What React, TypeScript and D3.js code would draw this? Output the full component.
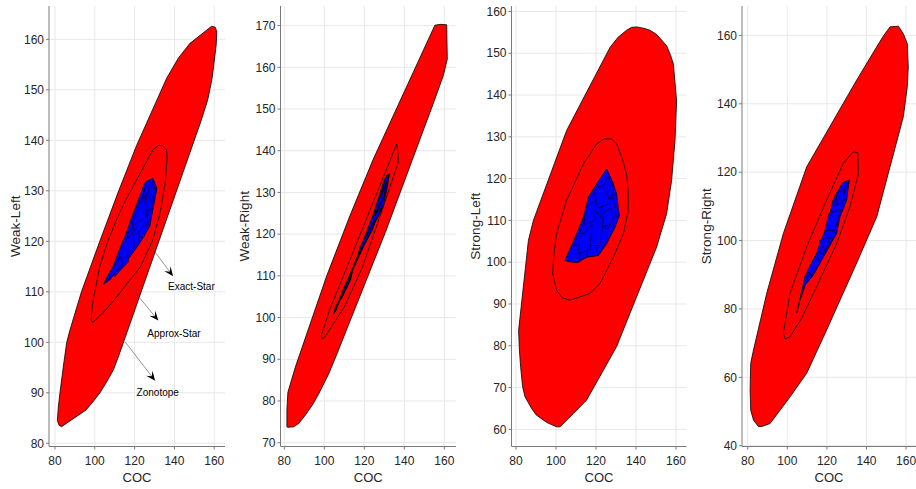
import React from 'react';
import * as d3 from 'd3';

type Pt = [number, number];

// ---------- data ----------
const xTicks = [80, 100, 120, 140, 160];
const yTicks1 = [80, 90, 100, 110, 120, 130, 140, 150, 160];
const yTicks2 = [70, 80, 90, 100, 110, 120, 130, 140, 150, 160, 170];
const yTicks3 = [60, 70, 80, 90, 100, 110, 120, 130, 140, 150, 160];
const yTicks4 = [40, 60, 80, 100, 120, 140, 160];
const yLabels = ['Weak-Left', 'Weak-Right', 'Strong-Left', 'Strong-Right'];
const xLabel = 'COC';

// Panel 1: Weak-Left
const zono1: Pt[] = [[83.3,83.3],[88,84.7],[92,85.7],[95.6,86.6],[99,88.2],[102.6,90],[106,92.2],[109.3,94.5],[112,97.3],[114,100],[121.7,110],[130.8,120],[140,130],[149.2,140],[153.5,144],[156.7,148],[158.8,152],[159.8,155],[161,159],[161.3,161.5],[160.5,162.4],[158.7,162.6],[155,161.3],[151,160],[147.8,159.2],[142,156.3],[136.1,152.3],[129,146],[121,139],[112,130],[102.5,120],[93.3,110],[87.5,102.4],[85.9,100],[84.2,95.2],[82.5,90],[81.7,87.2],[81.2,84.5],[82,83.6]];
const approx1: Pt[] = [[134.2,138.9],[136,138.2],[136.3,136.5],[135.5,132],[133,126],[129.2,120.3],[123,115],[116.2,111.8],[110,108.5],[104,105.8],[98.8,103.9],[98.2,104.6],[98.6,106.5],[99.2,108.4],[102.5,115],[106.5,120],[110.8,124.2],[115,127.8],[119.2,130.8],[124,134.2],[129.2,138.1],[132,139]];
const exact1: Pt[] = [[125.8,131.8],[127.5,132.2],[129.2,132.5],[130.2,131.5],[131.2,130.5],[130,128.2],[128.7,125.5],[127.5,122.9],[122.5,119.6],[118,117.2],[114,115],[105.8,112],[104.2,111.4],[106.5,113.2],[109.2,115],[112.5,118.5],[115.8,121.6],[119,125.2],[122.5,128.8],[125,131.5]];
const mesh1: Pt[][] = [
  [[125.8,131.8],[129.2,132.5],[128,127],[122,124.5]],
  [[131.2,130.5],[127.5,122.9],[124,126],[127,130]],
  [[122.5,128.8],[127,126.5],[125,121],[118,121]],
  [[115.8,121.6],[122,123],[122.5,119.6],[114,115]],
  [[109.2,115],[116,118.5],[117,116],[110,113]],
  [[104.2,111.4],[110,114],[108,112.5]],
  [[118,124],[124,127],[127,124],[121,121.5]],
  [[112,118],[119,122],[120,119],[113,116]],
  [[126,129.5],[130,130.8],[129,126.5],[125.5,126]],
  [[120,126],[125,129],[126,125],[119,123]],
  [[107,113.5],[113,117],[114,115.5],[108,112.8]],
  [[127,131],[129.5,131.5],[130.5,129.5],[127.5,127.5]],
];
const arrowsStart1: Pt[] = [[123.7,121.4],[116.3,111.8],[115.2,100.1]];
const arrowsEnd1: Pt[] = [[139.3,113.1],[131.9,104.3],[130.3,92.4]];
const arrowLabels = ['Exact-Star', 'Approx-Star', 'Zonotope'];
const arrowLabelPos1: Pt[] = [[136.8,110.3],[126.4,101.1],[121,89.4]];

// Panel 2: Weak-Right
const zono2: Pt[] = [[81.8,73.7],[84.7,73.8],[87.2,74.6],[90.5,76.6],[94,79],[97.2,81.7],[102.2,86.5],[106.5,91.5],[110.5,96.8],[119,106.8],[130.5,120.4],[140.5,134.8],[149.5,145.2],[155,152],[159.5,158],[161.5,162],[161.3,166],[161.2,170.2],[158,170.3],[155.3,170.1],[152.8,166.9],[146.2,159.7],[136.2,150],[124.5,138],[112.8,124.4],[101.2,110],[92.2,96.8],[85.5,88.1],[81.8,82.1],[81.3,77.8],[81.3,73.8]];
const approx2: Pt[] = [[136.2,141.6],[137,138.8],[137,137.2],[132.8,131.6],[126.2,122],[119,112],[110,102.5],[102.8,97.2],[100,95.2],[98.7,94.9],[98.7,96],[102.8,102],[112.8,112.4],[122.8,123.6],[131.2,134.8]];
const exact2: Pt[] = [[132.5,134.4],[131.6,131.5],[129.5,126.8],[122.8,120.4],[116.2,114],[110.3,107.6],[105.5,101.5],[104.6,100.8],[105.5,102.5],[108.7,105.2],[112.8,110],[118,116.5],[124,124],[129.8,132.8],[131.2,134]];
const mesh2: Pt[][] = [
  [[131.2,134],[132.5,134.4],[128,127],[125,125]],
  [[124,124],[129.5,126.8],[122.8,120.4],[118,116.5]],
  [[112.8,110],[122.8,120.4],[116.2,114],[110,107]],
  [[105.5,101.5],[110.3,107.6],[108.7,105.2]],
  [[118,117],[126,124],[124,121],[117,115]],
  [[126,127],[131,132],[130,129],[125,124.5]],
  [[109,106],[114,111],[113,109],[108.5,104.5]],
];

// Panel 3: Strong-Left
const zono3: Pt[] = [[140.3,156.3],[143.7,156],[147,155.5],[150.3,154.5],[153,153],[155.3,151.8],[157.3,149.5],[158.7,147.4],[160.3,138.6],[159.5,129.1],[157.8,119.5],[155.3,111.6],[150.3,103.6],[142,94.9],[133.7,84.5],[130.3,79.8],[123.7,74.2],[115.3,67],[108.7,63.8],[102.8,61],[102,60.6],[100.3,60.6],[96,61.5],[93.7,62.2],[90,63.5],[87.8,65],[84.5,67.8],[83.3,70.2],[82.3,75],[81.7,79],[81.3,83.7],[82.5,89],[83.7,94.1],[86.2,105.2],[88.7,110],[93.7,116.3],[105.3,131.5],[117,141.8],[127,151.4],[131,153.8],[135.3,155.5],[137.8,156.2]];
const approx3: Pt[] = [[127.8,129.5],[130.3,128.3],[133,125],[135.3,121.1],[136.2,116.3],[136,112],[133.7,106.8],[128.7,101.2],[122,94.9],[117,92.5],[107,90.9],[103,91.5],[100.3,93.3],[98.3,97.3],[99,102],[100.3,106.8],[105.3,114.8],[113.7,123.5],[120.3,128.3],[124,129.5]];
const exact3: Pt[] = [[125.3,122.3],[128.7,118.7],[130.3,116.3],[130.3,113.2],[131.7,111.2],[129.5,108.4],[125.3,104.4],[121.2,101.6],[115.3,101.2],[111.2,100],[107.8,100],[104.5,100.4],[110.3,106.8],[113.7,110.8],[116.2,115.6],[120.3,118.7],[123.7,121.1]];
const mesh3: Pt[][] = [
  [[125.3,122.3],[128.7,118.7],[124,116],[120.3,118.7]],
  [[130.3,116.3],[131.7,111.2],[126,110],[124,115]],
  [[116.2,115.6],[124,117],[123,111],[115,110]],
  [[113.7,110.8],[121,112],[120,106],[111,105]],
  [[110.3,106.8],[117,107],[115.3,101.2],[107.8,100]],
  [[121.2,101.6],[129.5,108.4],[125,111],[118,106]],
  [[104.5,100.4],[111.2,100],[113,104],[108,104]],
  [[123,114],[128,116],[130,112],[126,108],[122,109]],
  [[118,113],[124,110],[122,104],[116,104]],
  [[119,117],[125,119],[127,114],[121,113]],
  [[126,120.5],[129,117.5],[127,115],[123.5,118]],
  [[112,106],[118,109],[117,103],[111,102]],
  [[124,112],[128,113],[127.5,109],[123,108.5]],
  [[115,113],[120,115],[119.5,110],[114,109]],
];

// Panel 4: Strong-Right
const zono4: Pt[] = [[151.9,162.5],[156.1,162.7],[158.6,160.5],[160.6,157.6],[161.1,150.8],[160.6,145],[158.6,136.2],[151.9,121.6],[145.2,107],[135,93.4],[124.9,82.6],[119.9,73.9],[109.8,61.2],[101.4,54.3],[94.6,49.5],[91.3,46.5],[87.1,45.6],[85.4,45.6],[82.9,47.5],[81.5,50.4],[81.2,56.3],[81.5,64.1],[82.9,68],[85.4,73.9],[89.6,84.6],[98,102.1],[109.8,121.6],[121.6,133.3],[135,146.9],[145.2,156.7],[148.5,159.8]];
const approx4: Pt[] = [[133.4,126],[135.6,125.7],[135.9,119.6],[131.7,110],[125,99.2],[114.8,86.5],[107,77],[101.4,71.9],[98.9,71.2],[98,73],[98.9,75.8],[101.4,84.6],[109.8,98.2],[119.9,111.9],[128.3,122.6]];
const exact4: Pt[] = [[128,116.9],[131.3,117.7],[130,111.9],[126.6,107],[124.9,102.1],[116.5,93.4],[113.2,90],[109,87],[106.4,82.6],[104.7,78.8],[106,82],[109,89.5],[114.8,96.3],[119.9,104.1],[123.2,111.9]];
const mesh4: Pt[][] = [
  [[128,116.9],[131.3,117.7],[127,112],[124,113]],
  [[123.2,111.9],[130,111.9],[126.6,107],[121,106]],
  [[119.9,104.1],[124.9,102.1],[118,96],[115,97]],
  [[114.8,96.3],[116.5,93.4],[112,90],[110,91]],
  [[109,89.5],[113.2,90],[109,87],[106.4,82.6]],
  [[121,108],[127,109],[124,103],[119,103]],
  [[116,100],[122,101],[119,97]],
  [[125,114],[129,115],[128,111],[124.5,110.5]],
];

// ---------- layout ----------
const panels = [
  { left: 49, right: 225, xd: [77, 165.4], yd: [79.37, 166.6], yt: yTicks1, zono: zono1, approx: approx1, exact: exact1, mesh: mesh1, ylx: 20, mw: 0.5 },
  { left: 280.5, right: 456, xd: [78.1, 165.85], yd: [69.09, 174.7], yt: yTicks2, zono: zono2, approx: approx2, exact: exact2, mesh: mesh2, ylx: 249, mw: 1.1 },
  { left: 511.5, right: 686.5, xd: [77.75, 165.25], yd: [55.9, 161.3], yt: yTicks3, zono: zono3, approx: approx3, exact: exact3, mesh: mesh3, ylx: 480, mw: 0.5 },
  { left: 742, right: 916, xd: [77.1, 165], yd: [39.77, 168.6], yt: yTicks4, zono: zono4, approx: approx4, exact: exact4, mesh: mesh4, ylx: 711, mw: 0.6 },
];
const TOP = 6;
const BOTTOM = 446.5;
const FONT = 'Liberation Sans, Arial, Helvetica, sans-serif';

const hull = (pts: Pt[]) => (d3.polygonHull(pts) as Pt[]) || pts;

function Panel({ p, idx }: { p: any; idx: number }) {
  const x = d3.scaleLinear().domain(p.xd).range([p.left, p.right]);
  const y = d3.scaleLinear().domain(p.yd).range([BOTTOM, TOP]);
  const line = d3.line<Pt>().x((d) => x(d[0])).y((d) => y(d[1])).curve(d3.curveLinearClosed);
  const cy = (TOP + BOTTOM) / 2;

  const arrows: any[] = [];
  if (idx === 0) {
    arrowsStart1.forEach((s, i) => {
      const e = arrowsEnd1[i];
      const x1 = x(s[0]), y1 = y(s[1]), x2 = x(e[0]), y2 = y(e[1]);
      const dx = x2 - x1, dy = y2 - y1;
      const len = Math.hypot(dx, dy);
      const ux = dx / len, uy = dy / len;
      const nx = -uy, ny = ux;
      const L = 9.5, W = 8, N = 5.5;
      const bx = x2 - L * ux, by = y2 - L * uy;
      const notchX = x2 - N * ux, notchY = y2 - N * uy;
      const head = `M${x2},${y2}L${bx + nx * W / 2},${by + ny * W / 2}L${notchX},${notchY}L${bx - nx * W / 2},${by - ny * W / 2}Z`;
      arrows.push(
        <g key={'a' + i}>
          <line x1={x1} y1={y1} x2={notchX} y2={notchY} stroke="#4a4a4a" strokeWidth={0.6} />
          <path d={head} fill="#000" />
          <text x={x(arrowLabelPos1[i][0])} y={y(arrowLabelPos1[i][1])} fontSize={10} fill="#000" fontFamily={FONT}>{arrowLabels[i]}</text>
        </g>
      );
    });
  }

  return (
    <g>
      {xTicks.map((t) => (
        <line key={'gx' + t} x1={x(t)} x2={x(t)} y1={TOP} y2={BOTTOM} stroke="#e8e8e8" strokeWidth={1} />
      ))}
      {p.yt.map((t: number) => (
        <line key={'gy' + t} x1={p.left} x2={p.right} y1={y(t)} y2={y(t)} stroke="#e8e8e8" strokeWidth={1} />
      ))}
      <path d={line(hull(p.zono)) as string} fill="#ff0000" stroke="#000" strokeWidth={0.8} strokeLinejoin="round" />
      <path d={line(hull(p.approx)) as string} fill="#ff0000" stroke="#000" strokeWidth={0.8} strokeLinejoin="round" />
      <path d={line(p.exact) as string} fill="#0000ff" stroke="#000" strokeWidth={0.8} strokeLinejoin="round" />
      {p.mesh.map((m: Pt[], i: number) => (
        <path key={'m' + i} d={line(m) as string} fill="#0000ff" fillOpacity={0.85} stroke="#000" strokeWidth={p.mw} strokeLinejoin="round" />
      ))}
      <line x1={p.left} x2={p.left} y1={TOP} y2={BOTTOM} stroke="#7a7a7a" strokeWidth={1} />
      <line x1={p.left} x2={p.right} y1={BOTTOM} y2={BOTTOM} stroke="#7a7a7a" strokeWidth={1} />
      {xTicks.map((t) => (
        <g key={'tx' + t}>
          <line x1={x(t)} x2={x(t)} y1={BOTTOM} y2={BOTTOM + 3} stroke="#7a7a7a" strokeWidth={1} />
          <text x={x(t)} y={464.5} textAnchor="middle" fontSize={12} fill="#262626" fontFamily={FONT}>{t}</text>
        </g>
      ))}
      {p.yt.map((t: number) => (
        <g key={'ty' + t}>
          <line x1={p.left - 3} x2={p.left} y1={y(t)} y2={y(t)} stroke="#7a7a7a" strokeWidth={1} />
          <text x={p.left - 5} y={y(t) + 4.2} textAnchor="end" fontSize={12} fill="#262626" fontFamily={FONT}>{t}</text>
        </g>
      ))}
      <text x={(p.left + p.right) / 2} y={481.5} textAnchor="middle" fontSize={13} fill="#262626" fontFamily={FONT}>{xLabel}</text>
      <text transform={`translate(${p.ylx},${cy}) rotate(-90)`} textAnchor="middle" fontSize={13.5} fill="#262626" fontFamily={FONT}>{yLabels[idx]}</text>
      {arrows}
    </g>
  );
}

export default function App() {
  return (
    <svg width={916} height={489} style={{ position: 'absolute', left: 0, top: 0, background: '#fff' }}>
      <rect x={0} y={0} width={916} height={489} fill="#fff" />
      {panels.map((p, i) => (
        <Panel key={i} p={p} idx={i} />
      ))}
    </svg>
  );
}
